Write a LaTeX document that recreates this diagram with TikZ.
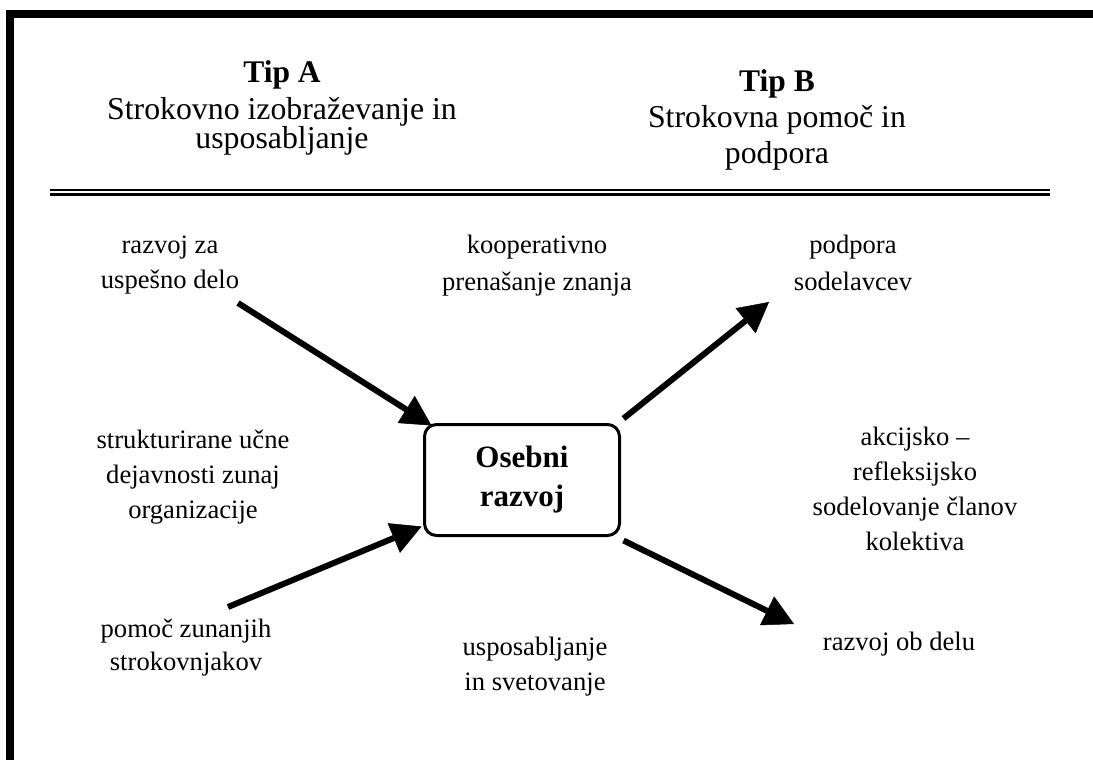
\documentclass[tikz,border=0pt]{standalone}
\usepackage{fontspec}
\setmainfont{Liberation Serif}
\usetikzlibrary{arrows.meta,calc}
\begin{document}
\begin{tikzpicture}[x=1pt,y=-1pt,
  hdrb/.style={font=\fontsize{31.5}{36}\selectfont\bfseries, inner sep=0pt, anchor=base},
  hdr/.style={font=\fontsize{31.8}{36}\selectfont, align=center, inner sep=0pt, anchor=base},
  lbl/.style={font=\fontsize{26.6}{35}\selectfont, align=center, inner sep=0pt, anchor=base},
  arr/.style={line width=6pt, -{Triangle[length=30pt,width=32pt,line width=0.5pt]}},
  centrebox/.style={draw, line width=3pt, rounded corners=12pt, minimum width=195pt,
    minimum height=111pt, inner sep=0pt, align=center,
    font=\fontsize{31}{39}\selectfont\bfseries}]
\useasboundingbox (0,0) rectangle (1093,760);
\clip (0,0) rectangle (1093,760);
% frame
\draw[line width=8pt, miter limit=10] (10,780) -- (10,14) -- (1110,14);
% double rule
\draw[line width=2.6pt] (50,189.8) -- (1050,189.8);
\draw[line width=3pt] (50,194.8) -- (1050,194.8);
% headers (anchor base = baseline of the last line)
\node[hdrb] (tipA) at (282,83) {Tip A};
\node[hdr] (tipAtxt) at (282,148) {Strokovno izobraževanje in\\[-7pt]usposabljanje};
\node[hdrb] (tipB) at (777,92) {Tip B};
\node[hdr] (tipBtxt) at (777,163) {Strokovna pomoč in\\podpora};
% centre
\node[centrebox] (box) at (522,480) {Osebni\\razvoj};
% labels
\node[lbl] (lA1) at (170,288) {razvoj za\\uspešno delo};
\node[lbl] (lK) at (537,290) {kooperativno\\[2pt]prenašanje znanja};
\node[lbl] (lP) at (853,290) {podpora\\[2pt]sodelavcev};
\node[lbl] (lS) at (193,518) {strukturirane učne\\dejavnosti zunaj\\organizacije};
\node[lbl] (lAK) at (915,550) {akcijsko –\\refleksijsko\\sodelovanje članov\\kolektiva};
\node[lbl] (lPZ) at (186,670) {pomoč zunanjih\\[-2pt]strokovnjakov};
\node[lbl] (lU) at (535,690) {usposabljanje\\in svetovanje};
\node[lbl] (lR) at (899,650) {razvoj ob delu};
% connectors
\coordinate (s1) at (238,303);
\coordinate (s2) at (228,607);
\coordinate (e3) at (769,302);
\coordinate (e4) at (794,624);
\draw[arr] (s1) -- ($(box.north west)+(8.5,2.5)$);
\draw[arr] (s2) -- ($(box.south west)+(-1.5,-10.5)$);
\draw[arr] ($(box.north east)+(2.5,-4.5)$) -- (e3);
\draw[arr] ($(box.south east)+(2.5,3.5)$) -- (e4);
\end{tikzpicture}
\end{document}
